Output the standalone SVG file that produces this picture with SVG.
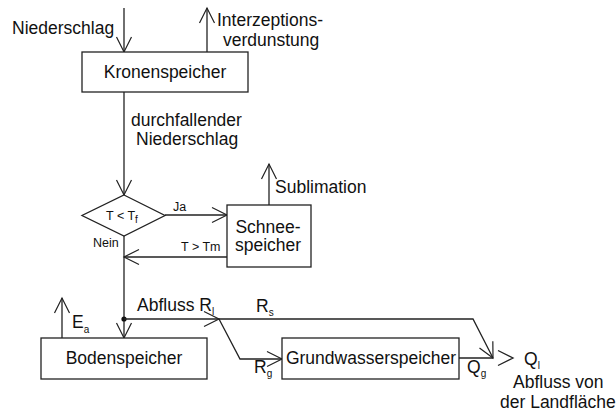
<svg xmlns="http://www.w3.org/2000/svg" width="616" height="415" viewBox="0 0 616 415">
  <defs>
    <marker id="arrow" markerUnits="userSpaceOnUse" viewBox="-16 -9 18 18" markerWidth="18" markerHeight="18" refX="0" refY="0" orient="auto">
      <path d="M -15 -7.5 L 0 0 L -15 7.5" fill="none" stroke="#222" stroke-width="1.2"/>
    </marker>
    <style>
      .box { fill: #fff; stroke: #222; stroke-width: 1.3; }
      .ln { fill: none; stroke: #222; stroke-width: 1.3; }
      .arr { fill: none; stroke: #222; stroke-width: 1.3; marker-end: url(#arrow); }
      text { font-family: "Liberation Sans", Arial, sans-serif; fill: #111; }
      .big { font-size: 17.5px; }
      .sm { font-size: 12.5px; }
      .sub { font-size: 10px; }
      .mid { text-anchor: middle; }
    </style>
  </defs>

  <!-- connectors -->
  <g id="connectors">
    <!-- precipitation in, interception evaporation out -->
    <line class="arr" x1="124" y1="8" x2="124" y2="52"/>
    <line class="arr" x1="207" y1="52" x2="207" y2="8"/>
    <!-- throughfall to decision -->
    <line class="arr" x1="124" y1="92" x2="124" y2="195"/>
    <!-- Ja branch to snow storage -->
    <line class="arr" x1="165" y1="215" x2="227" y2="215"/>
    <!-- sublimation -->
    <line class="arr" x1="269" y1="205" x2="269" y2="164"/>
    <!-- melt back to main stem -->
    <line class="arr" x1="227" y1="257" x2="124" y2="257"/>
    <!-- main stem down to soil storage -->
    <line class="arr" x1="124" y1="236" x2="124" y2="338"/>
    <circle cx="124" cy="319" r="2.6" fill="#111"/>
    <!-- actual evapotranspiration -->
    <line class="arr" x1="62" y1="338" x2="62" y2="298"/>
    <!-- runoff R_l -->
    <line class="arr" x1="124" y1="319" x2="219" y2="319"/>
    <!-- surface runoff R_s -->
    <polyline class="arr" points="219,319 473,319 493,358"/>
    <!-- recharge R_g -->
    <polyline class="arr" points="219,319 240,359 282,359"/>
    <!-- baseflow Q_g -->
    <line class="ln" x1="459" y1="358" x2="493" y2="358"/>
    <path class="ln" d="M 498 350.5 L 513 358 L 498 365.5"/>
  </g>

  <!-- nodes -->
  <g id="kronenspeicher">
    <rect class="box" x="82" y="52" width="166" height="40"/>
    <text class="big mid" x="165" y="78">Kronenspeicher</text>
  </g>

  <g id="entscheidung">
    <polygon class="box" points="124,195 165,215.5 124,236 82,215.5"/>
    <text class="sm" x="106" y="220">T &lt; T<tspan class="sub" dy="3">f</tspan></text>
  </g>

  <g id="schneespeicher">
    <rect class="box" x="227" y="205" width="84" height="62"/>
    <text class="big mid" x="268" y="233">Schnee-</text>
    <text class="big mid" x="268" y="251">speicher</text>
  </g>

  <g id="bodenspeicher">
    <rect class="box" x="41" y="338" width="166" height="41"/>
    <text class="big mid" x="124" y="364">Bodenspeicher</text>
  </g>

  <g id="grundwasserspeicher">
    <rect class="box" x="282" y="338" width="177" height="41"/>
    <text class="big mid" x="371" y="364">Grundwasserspeicher</text>
  </g>

  <!-- flow labels -->
  <g id="labels">
    <text class="big" x="12" y="34">Niederschlag</text>
    <text class="big" x="217" y="26">Interzeptions-</text>
    <text class="big" x="223" y="46">verdunstung</text>
    <text class="big" x="131" y="126">durchfallender</text>
    <text class="big" x="136" y="145">Niederschlag</text>
    <text class="big" x="275" y="193">Sublimation</text>
    <text class="sm" x="173" y="211">Ja</text>
    <text class="sm" x="93" y="247">Nein</text>
    <text class="sm" x="181" y="251">T &gt; Tm</text>
    <text class="big" x="72" y="328">E<tspan class="sub" dy="5">a</tspan></text>
    <text class="big" x="137" y="311">Abfluss R<tspan class="sub" dy="4">l</tspan></text>
    <text class="big" x="256" y="312">R<tspan class="sub" dy="4">s</tspan></text>
    <text class="big" x="254" y="373">R<tspan class="sub" dy="4">g</tspan></text>
    <text class="big" x="467" y="373">Q<tspan class="sub" dy="4">g</tspan></text>
    <text class="big" x="524" y="365">Q<tspan class="sub" dy="4">l</tspan></text>
    <text class="big" x="513" y="388">Abfluss von</text>
    <text class="big" x="500" y="408">der Landfläche</text>
  </g>
</svg>
